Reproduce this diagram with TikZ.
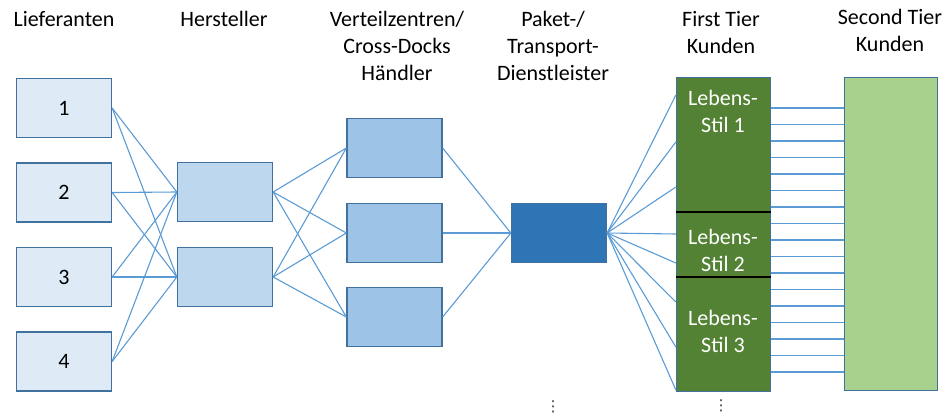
\documentclass[tikz,border=0pt]{standalone}
\usepackage{fontspec}
\setmainfont{Carlito}
\newfontfamily\dotsfont{DejaVu Sans}
\usepackage{tikz}

\definecolor{linkblue}{HTML}{5B9BD5}
\definecolor{edgeblue}{HTML}{41719C}
\definecolor{supfill}{HTML}{DEEBF7}
\definecolor{manfill}{HTML}{BDD7EE}
\definecolor{dcfill}{HTML}{9DC3E6}
\definecolor{pkfill}{HTML}{2E75B6}
\definecolor{firstfill}{HTML}{548235}
\definecolor{secondfill}{HTML}{A9D18E}

\begin{document}
\begin{tikzpicture}[x=1pt, y=-1pt,
    every node/.style={font=\fontsize{22}{27}\selectfont},
    box/.style={draw=edgeblue, line width=1.3pt, minimum width=95pt,
        minimum height=59pt, inner sep=0pt},
    head/.style={anchor=north, align=center, inner sep=0pt},
    life/.style={align=center, text=white, inner sep=0pt},
    link/.style={linkblue, line width=1.1pt},
    more/.style={inner sep=0pt, text=black!80, font=\dotsfont\fontsize{15}{15}\selectfont}]
    \useasboundingbox (0,0) rectangle (948,416);

    % column titles
    \node[head] (hSup) at (64,11) {Lieferanten};
    \node[head] (hMan) at (224,11) {Hersteller};
    \node[head] (hDc) at (397,11) {Verteilzentren/\\Cross-Docks\\Händler};
    \node[head] (hPk) at (553,11) {Paket-/\\Transport-\\Dienstleister};
    \node[head] (hFirst) at (721,11) {First Tier\\Kunden};
    \node[head] (hSecond) at (890,9) {Second Tier\\Kunden};

    % suppliers and manufacturers
    \node[box, fill=supfill] (s1) at (64,108) {1};
    \node[box, fill=supfill] (s2) at (64,192.5) {2};
    \node[box, fill=supfill] (s3) at (64,277) {3};
    \node[box, fill=supfill] (s4) at (64,361.5) {4};
    \node[box, fill=manfill] (m1) at (225,192) {};
    \node[box, fill=manfill] (m2) at (225,277) {};

    % distribution centres and parcel service
    \node[box, fill=dcfill] (d1) at (394.5,148) {};
    \node[box, fill=dcfill] (d2) at (394.5,233) {};
    \node[box, fill=dcfill] (d3) at (394.5,317) {};
    \node[box, fill=pkfill] (pk) at (559,233) {};

    % customers
    \node[box, fill=firstfill, minimum width=94pt, minimum height=314pt] (ft) at (723.5,234.5) {};
    \node[box, fill=secondfill, minimum width=93pt, minimum height=313pt] (st) at (891,234) {};
    \draw[black, line width=1.3pt] (ft.west |- 0,212) -- (ft.east |- 0,212);
    \draw[black, line width=1.3pt] (ft.west |- 0,277) -- (ft.east |- 0,277);
    \node[life] (ls1) at (723,111) {Lebens-\\Stil 1};
    \node[life] (ls2) at (723,250) {Lebens-\\Stil 2};
    \node[life] (ls3) at (723,331) {Lebens-\\Stil 3};

    % links
    \foreach \s in {s1,s2,s3,s4}
        \foreach \m in {m1,m2}
            \draw[link] (\s.east) -- (\m.west);
    \foreach \m in {m1,m2}
        \foreach \d in {d1,d2,d3}
            \draw[link] (\m.east) -- (\d.west);
    \foreach \d in {d1,d2,d3}
        \draw[link] (\d.east) -- (pk.west);
    \foreach \y in {95,142,187,234,263,302,347,390}
        \draw[link] (pk.east) -- (ft.west |- 0,\y);
    \foreach \i [evaluate=\i as \y using 108+16.5*\i] in {0,...,16}
        \draw[link, line width=1.3pt] (ft.east |- 0,\y) -- (st.west |- 0,\y);

    % more below
    \node[more] (more1) at (553,407) {⋮};
    \node[more] (more2) at (721,406) {⋮};
\end{tikzpicture}
\end{document}
